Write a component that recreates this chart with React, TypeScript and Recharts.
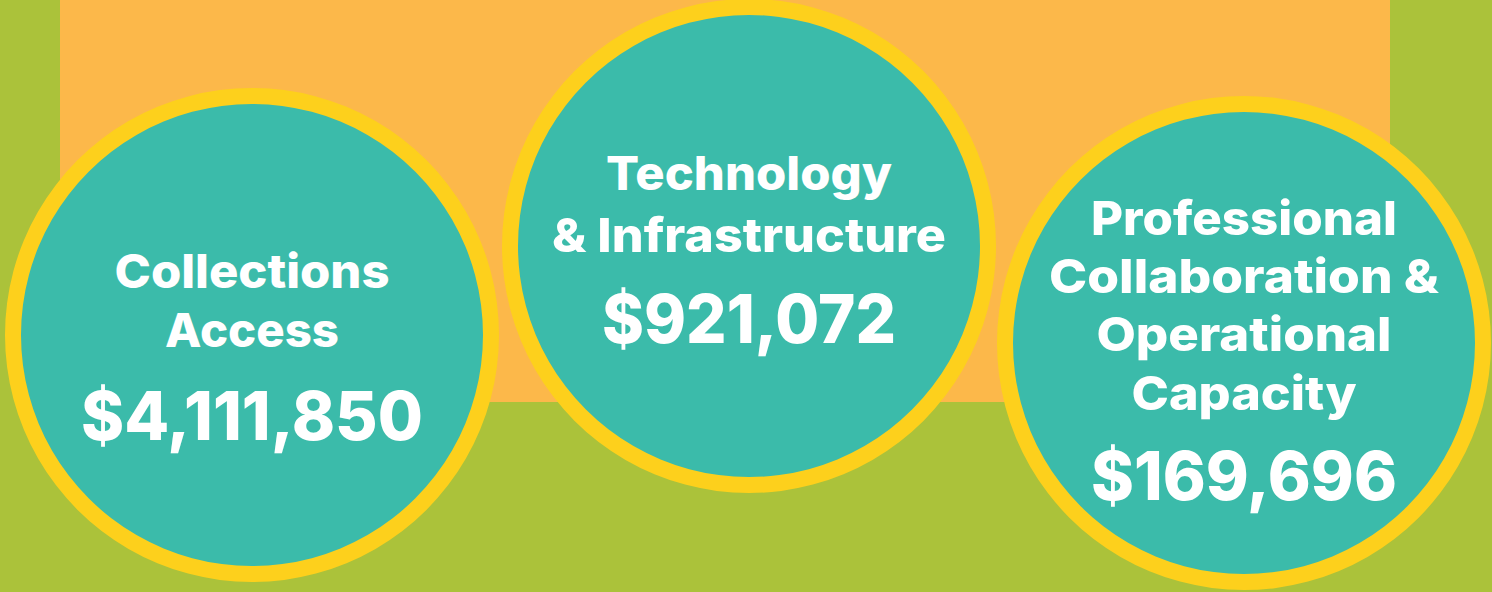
import { PieChart, Pie } from 'recharts';

// funding areas and their totals
const categories = [
  'Collections Access',
  'Technology & Infrastructure',
  'Professional Collaboration & Operational Capacity',
];
const categoryLines = [
  ['Collections', 'Access'],
  ['Technology', '& Infrastructure'],
  ['Professional', 'Collaboration &', 'Operational', 'Capacity'],
];
const amounts = [4111850, 921072, 169696];

// layout only: circle centres, text baselines (relative to centre) and widths
const circleLayout = [
  { cx: 252, cy: 335, lineDy: [-47, 12], lineW: [275, 174], amountDy: 105, amountW: 342 },
  { cx: 749, cy: 246, lineDy: [-56, 6], lineW: [286, 394], amountDy: 97, amountW: 294 },
  { cx: 1244, cy: 343, lineDy: [-108, -50, 8, 67], lineW: [306, 390, 295, 225], amountDy: 157, amountW: 306 },
];

const W = 1492;
const H = 592;
const GREEN = '#abc23a';
const ORANGE = '#fcb84a';
const YELLOW = '#fdd01c';
const TEAL = '#3bbbaa';
const FONT = 'Inter, "Open Sans", sans-serif';

const formatMoney = (v: number) => '$' + v.toLocaleString('en-US');

function makeLabel(i: number) {
  const lay = circleLayout[i];
  return (props: any) => {
    const { cx, cy } = props;
    return (
      <g>
        {categoryLines[i].map((line, j) => (
          <text
            key={line}
            x={cx}
            y={cy + lay.lineDy[j]}
            textAnchor="middle"
            fill="#fff"
            fontFamily={FONT}
            fontWeight={800}
            fontSize={47}
            textLength={lay.lineW[j]}
            lengthAdjust="spacingAndGlyphs"
          >
            {line}
          </text>
        ))}
        <text
          x={cx}
          y={cy + lay.amountDy}
          textAnchor="middle"
          fill="#fff"
          fontFamily={FONT}
          fontWeight={800}
          fontSize={68}
          textLength={lay.amountW}
          lengthAdjust="spacingAndGlyphs"
        >
          {formatMoney(amounts[i])}
        </text>
      </g>
    );
  };
}

export default function App() {
  return (
    <div style={{ position: 'absolute', left: 0, top: 0, width: W, height: H, background: GREEN, overflow: 'hidden' }}>
      <div style={{ position: 'absolute', left: 60, top: 0, width: 1330, height: 402, background: ORANGE }} />
      <div style={{ position: 'absolute', left: 0, top: 0 }}>
        <PieChart width={W} height={H} margin={{ top: 0, right: 0, bottom: 0, left: 0 }}>
          {categories.map((name, i) => (
            <Pie
              key={name + '-ring'}
              data={[{ name, value: amounts[i] }]}
              dataKey="value"
              cx={circleLayout[i].cx}
              cy={circleLayout[i].cy}
              outerRadius={247}
              innerRadius={0}
              startAngle={90}
              endAngle={-270}
              fill={YELLOW}
              stroke="none"
              isAnimationActive={false}
            />
          ))}
          {categories.map((name, i) => (
            <Pie
              key={name + '-fill'}
              data={[{ name, value: amounts[i] }]}
              dataKey="value"
              cx={circleLayout[i].cx}
              cy={circleLayout[i].cy}
              outerRadius={231}
              innerRadius={0}
              startAngle={90}
              endAngle={-270}
              fill={TEAL}
              stroke="none"
              labelLine={false}
              label={makeLabel(i)}
              isAnimationActive={false}
            />
          ))}
        </PieChart>
      </div>
    </div>
  );
}
